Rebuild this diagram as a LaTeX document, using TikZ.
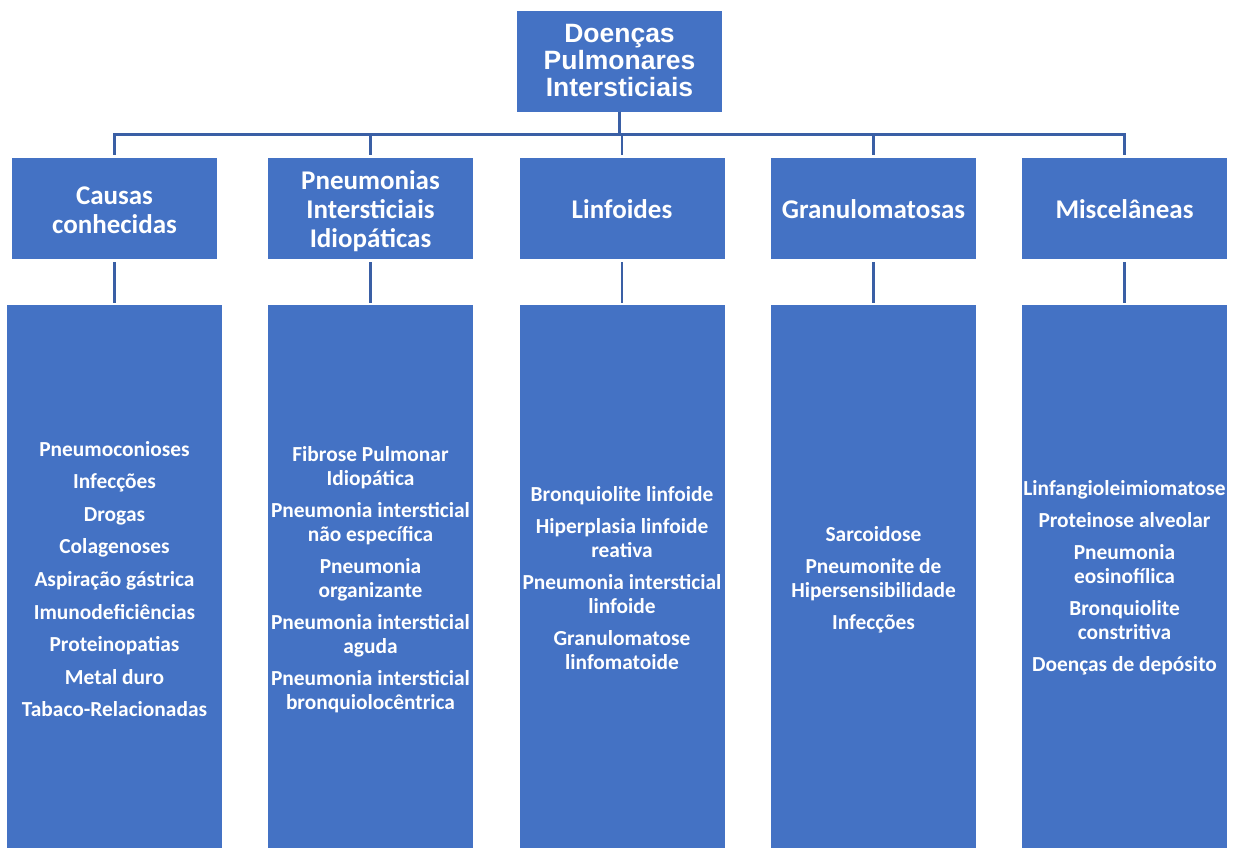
\documentclass[tikz,border=0pt]{standalone}
\usepackage{fontspec}
\setmainfont{Carlito}
\newfontfamily\arialfont{Liberation Sans}
\definecolor{boxblue}{HTML}{4472C4}
\definecolor{lineblue}{RGB}{58,95,165}
\begin{document}
\begin{tikzpicture}[x=1pt,y=-1pt,
  box/.style={fill=boxblue,draw=none,outer sep=0pt,inner sep=0pt,text=white,align=center},
  topbox/.style={box,minimum width=205pt,minimum height=101pt,font=\arialfont\bfseries\fontsize{26.5}{27}\selectfont},
  catbox/.style={box,minimum width=205pt,minimum height=101pt},
  cattext/.style={text=white,align=center,inner sep=0pt,font=\bfseries\fontsize{27}{29}\selectfont},
  listbox/.style={box,minimum height=546pt},
  listtext/.style={text=white,align=center,inner sep=0pt,font=\bfseries\fontsize{21.4}{24}\selectfont},
  conn/.style={draw=lineblue,line width=2.6pt}
]
\useasboundingbox (0,0) rectangle (1238,847);

\node[topbox] (top) at (619.5,61) {Doenças\\Pulmonares\\Intersticiais};

\node[catbox] (c1) at (114.5,208.5) {};
\node[catbox] (c2) at (370.5,208.5) {};
\node[catbox] (c3) at (622,208.5) {};
\node[catbox] (c4) at (873.5,208.5) {};
\node[catbox] (c5) at (1124.5,208.5) {};
\node[cattext] (n1) at ([yshift=-2pt]c1.center) {Causas\\conhecidas};
\node[cattext] (n2) at ([yshift=-2.5pt]c2.center) {Pneumonias\\Intersticiais\\Idiopáticas};
\node[cattext] (n3) at ([yshift=-0.5pt]c3.center) {Linfoides};
\node[cattext] (n4) at ([yshift=-0.5pt]c4.center) {Granulomatosas};
\node[cattext] (n5) at ([yshift=-0.5pt]c5.center) {Miscelâneas};

\node[listbox,minimum width=215pt] (l1) at (114.5,578) {};
\node[listbox,minimum width=205pt] (l2) at (370.5,578) {};
\node[listbox,minimum width=205pt] (l3) at (622,578) {};
\node[listbox,minimum width=205pt] (l4) at (873.5,578) {};
\node[listbox,minimum width=205pt] (l5) at (1124.5,578) {};

\node[listtext] (t1) at ([yshift=-1pt]l1.center) {Pneumoconioses\\[8.6pt]Infecções\\[8.6pt]Drogas\\[8.6pt]Colagenoses\\[8.6pt]Aspiração gástrica\\[8.6pt]Imunodeficiências\\[8.6pt]Proteinopatias\\[8.6pt]Metal duro\\[8.6pt]Tabaco-Relacionadas};
\node[listtext] (t2) at ([yshift=-1.5pt]l2.center) {Fibrose Pulmonar\\Idiopática\\[8pt]Pneumonia intersticial\\não específica\\[8pt]Pneumonia\\organizante\\[8pt]Pneumonia intersticial\\aguda\\[8pt]Pneumonia intersticial\\bronquiolocêntrica};
\node[listtext] (t3) at (l3.center) {Bronquiolite linfoide\\[8pt]Hiperplasia linfoide\\reativa\\[8pt]Pneumonia intersticial\\linfoide\\[8pt]Granulomatose\\linfomatoide};
\node[listtext] (t4) at ([yshift=-2pt]l4.center) {Sarcoidose\\[8pt]Pneumonite de\\Hipersensibilidade\\[8pt]Infecções};
\node[listtext] (t5) at (l5.center) {Linfangioleimiomatose\\[8pt]Proteinose alveolar\\[8pt]Pneumonia\\eosinofílica\\[8pt]Bronquiolite\\constritiva\\[8pt]Doenças de depósito};

\foreach \i in {1,...,5}{
  \draw[conn,shorten >=3pt] (top.south) -- ++(0,23) -| (c\i.north);
  \draw[conn,shorten >=2.5pt,shorten <=3pt] (c\i.south) -- (l\i.north -| c\i.south);
}
\end{tikzpicture}
\end{document}
